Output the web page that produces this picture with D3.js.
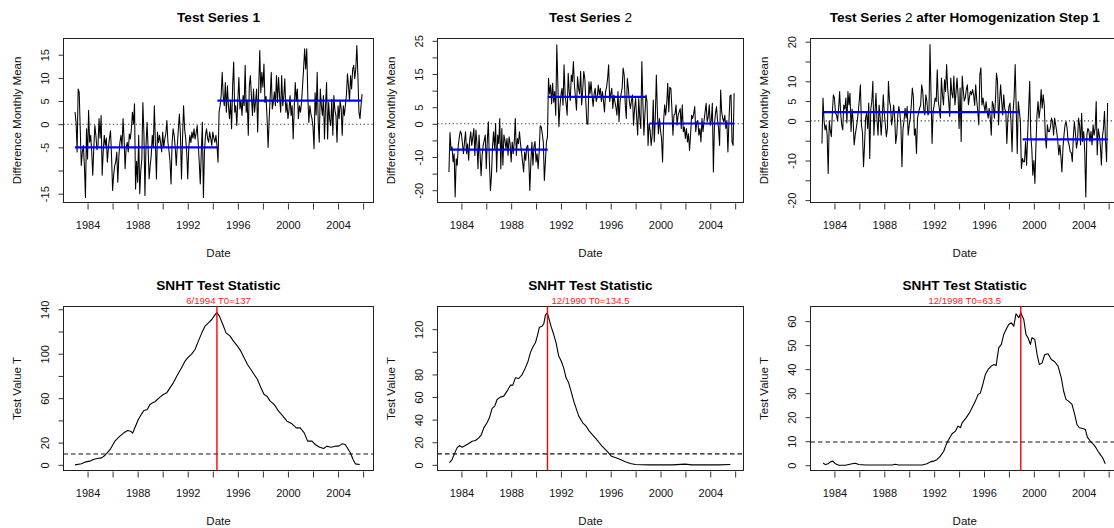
<!DOCTYPE html>
<html>
<head>
<meta charset="utf-8">
<script src="https://cdn.jsdelivr.net/npm/d3@7"></script>
<style>
  html, body { margin: 0; padding: 0; background: #fff; }
  svg { display: block; }
</style>
</head>
<body>
<div id="chart"></div>
<script>
// Six R-style panels: three monthly difference series (Jan 1983 - Dec 2005)
// with segment means, and the SNHT test statistic computed for each of them.

const startYear = 1983;   // first monthly value is January 1983

const series1 = [
  2.6, 0.4, -6, 7.6, 6.9, -1, -8.9, -6, -4.6, -9,
  -15.8, -1, -7.5, 3, -3.9, -2.4, -6, -11, -5, -0.3,
  -2.4, -5.5, -4.6, 1.2, -3, 1.9, -11, -6, -2.4, -4.6,
  -3, -8.2, -5, -3, -1.4, -7, -14.3, -11, -9, -8.2,
  -6, -12.5, -7, -3.9, -2.4, -5, 1.2, -3, -9.6, -5,
  -3.9, -6, -2.1, -3.2, -1, 2.6, 0, 4.4, -14, -8,
  -12.5, -2.4, -15, -10, -7.5, 4.7, -2, -15.4, -4.6, 0.4,
  -5, -11.8, -9, -6.8, -2.4, -5, 4, -4, -11.8, -1.7,
  -4, -2.4, -4, -6, -1.7, -5, -3.2, -2, 0.8, -3.9,
  -5.7, -8, -12.9, -4, -1, -2.4, -5, -8.9, -4.6, -1,
  2.2, -2.4, -11.8, -3, 4, -1, -3, -6, -11.8, -5,
  -2.4, -4, -1.7, -3, -1, -3.2, -2, -0.3, -4, -8.2,
  -12.9, -6, 0.4, -15.8, -6, -2.4, -1, -3, -3.9, -1.7,
  -3, -4.6, -1.7, -3, -3.9, -2.4, -4.6, -8.2, 2.6, 4,
  6.2, 11.2, 6, 4, 9, 2.6, 8.3, 4, 1.2, 5,
  -1, 8.3, 13.4, 2.6, 4, -0.3, 5.4, 10.1, 3.3, 5,
  1.9, 6.2, 4, 12.7, 2.6, 5, -2.4, 8.3, 10.5, 6,
  1.9, 7.6, 2.6, 5, 7.6, -1.7, 8, 15.9, 6.8, 11.2,
  8, 13, 4.7, 6, 1.2, -5, 1.2, 6, 11.2, 3.3,
  4.7, 7, 4, 10.5, 4.7, 10.1, 6, 2.6, 10.5, 4,
  6, 9.8, 2.6, 4.7, 1.2, 3, 6.2, 1.9, 4, -3.2,
  3.3, 9, 5, 7.6, 1.2, 4, 2.6, 4.7, 8.3, 12,
  16.3, 11.9, 16.3, 6.2, 0.4, 4, 2.2, 1.2, -0.6, -5.3,
  6.8, 2, 11.2, 0.4, -3.9, 7.6, 4, 1.9, 6.2, -3.2,
  4, 9, -3.2, 4.7, 1, -0.3, 5.4, -2.4, 6.2, 3,
  1.9, -3.9, 4, 1.2, 5, 3.3, -2.4, 4, 1.9, 4,
  6.2, 10.9, 8.3, 5, 10.5, 7.6, 11.9, 12.7, 9.8, 12,
  17, 10.5, 2.6, 1.2, 4, 6.5
];

const series2 = [
  -14.5, -2.6, -7.5, -7, -11.5, -9, -22, -10.5, -12.5, -6.5,
  -4, -2.2, -3, -6, -9, -5.5, -2.4, -9, -6, -11,
  -5, -2.4, -6.5, -4, -1.4, -9.5, -1.9, -6, -13.5, -3.4,
  -9, -15.6, -9.5, -6.5, -5, -3.4, -13.5, -5, 0.6, -11.5,
  -20.1, -15.6, -7, -2.4, -7.5, 0.1, -14.5, -3.4, -6, 1.6,
  -13.5, -1.4, -12.5, -3.4, -5, -7.5, -4.4, -9.5, -3.9, -6,
  -11.5, -5.5, -9, -5.5, 1.6, -9.5, -4.4, -6, -2.4, -6,
  -8.5, -11.5, -14.5, -8.5, -11, -7, -6.5, -11, -20.1, -11.5,
  -5.5, -12.5, -7, -5.3, -11.5, -9, -13.5, -8.5, -0.6, -0.9,
  -3, -5.5, -17.1, -11.5, -5.5, -4, 13.7, 9, 11.7, 6,
  12.2, 6.5, 9.7, 2.6, 23.8, 12.2, -0.9, 5, 8.7, 10.7,
  5.6, 17.8, 8.7, 6, 2.6, 15.2, 9.7, 7, 14.7, 12.7,
  18.8, 11.7, 8, 4.1, 14.2, 10.7, 9, 15.8, 5.7, 10.2,
  15.8, 13.7, 6.7, 0.1, -0.2, 12.7, 9, 12.7, 8.7, 5.2,
  9, 10.7, 6.7, 8, 11.7, 8.7, 10.7, 6.7, 9.7, 7,
  3.6, 9.7, 11, 13.7, 17.8, 6.7, 9, 10.7, 4.6, 8.7,
  6.7, 5, 2.6, 9.7, 0.6, 6.7, 9, 10.7, 16.8, 14.7,
  6, 1.6, 13.7, 10.7, 6.7, 4.6, 7, 8.7, -0.4, 4.6,
  7.6, 2, -3.4, 7.6, 2, -1.4, 18.8, 6.7, -3.4, 3,
  8.7, 6.7, -6.5, 0.1, -2, -6.5, -3.4, 7.2, -5.5, 2,
  14.7, 3.6, -3, 1.6, -2, -4.4, -11.5, 0.6, 5.7, 2.6,
  6, 12.2, 3.6, 11, 10.7, 4.6, -3.4, 2.6, 3, 5.7,
  -0.4, 2.6, 3.6, 4.6, -1.4, 5.7, -2.4, -1, -4.4, -1.4,
  -5.5, -3, -8, -3.4, 2.6, 1.6, 3, 5.2, -2.4, 0.6,
  1, -3.4, -1.4, -5.5, 1.6, -2.4, 1, 3.6, 6.2, 0.6,
  2, 5.7, -0.4, 1, 6.2, -14.5, -0.4, 3.1, 5.2, 1,
  -1.4, -6.5, 10.2, 3.6, 1.6, 0.6, 2.6, -1.4, 1, -8.5,
  0.6, 8.4, 8.7, -5.5, -6.5, 9.2
];

const series3 = [
  -5.7, 5.8, 0, -2.3, -1, -3.6, -13.3, 0, -2.3, -4,
  2, 6.6, 5.8, 2, 1.5, 0, 3, 7.4, 2, -1,
  -2.3, 4, 3, 5.8, -0.5, 7.4, 4, 7, -2.7, 3,
  0, -6.1, -3.6, -1.9, 0, 2.4, 5.4, 9.1, -1, -3,
  -11.6, -6.1, 0.7, 2, -1.9, 4.5, -9.5, 3, 4.9, 10,
  -3.6, 2, 7, 0, -3.6, 4, 1, -3.6, 0.7, 6.6,
  2, -1, -4, -1.9, 10, 5, 3.6, -1, 0.7, 4,
  1, -5.7, -3.6, 1.5, 3.6, 2, -1, -11.6, -2, 0,
  3.2, 0.7, 3.6, -3.6, -1, 0.7, 4, 8.3, 6.1, -3.6,
  -2, -8.2, 0.7, 2, 3.2, 4, 9.1, 7.4, 3, 1.5,
  6.6, 4.9, 1.5, 2, 19.3, 6.6, -5.7, 2.4, 4, 5.8,
  4.9, 12.9, 4.9, 3, 0.7, 10.8, 6.6, 4, 10.4, 7.4,
  14.2, 8.3, 5, 1.1, 10.8, 7, 5.8, 11.3, 4, 7,
  10.8, 6.6, -1.9, 8.3, -5.2, 11.3, 7.9, 5, 5.8, 8,
  9.1, 4.1, 6, 7.5, 6.6, 7.9, 6.6, 3.9, 9.1, 5.2,
  2.4, -1, 11.7, 13.4, 4, 5.8, 3.9, 2.4, 4.9, 2.4,
  0.7, 3.2, 1, -3.6, 4.9, 4, 0.7, 5, 12.1, 10,
  -1, 5, 9.1, 4.9, 1.5, 6.6, 3, 2.4, -5.7, 0.7,
  3.6, 4.5, -0.2, -7.8, 2.4, 6, 14.2, 3.2, -8.2, 4.9,
  2.4, 0, -12, -9.5, -10.3, -10.3, -5.2, -11.2, -3.6, 3,
  10, -3.6, -6.9, -13.7, -10, -15.8, -6.1, 1.5, 4.9, 0.7,
  3, 7.9, 3.2, 6.6, 4, -3.6, -6.9, -1, -2.7, -2.7,
  -1.5, 0.7, -0.2, -3.6, 0.7, -1, -2.7, -5, -8.6, -6.1,
  -9, -12.9, -6.9, -3.6, -1, -0.2, -1.9, -5.2, -6.1, -7.8,
  -8, -10.3, -4, -0.2, -3, -6.9, -5.2, 0.7, -1, -6.1,
  1.9, -5.2, -2.7, -8, -19.2, -3.6, -1.9, -2.5, -5.2, -2.7,
  -6.1, -1, -3.6, -1.9, 4.9, -8.6, -2, -3.6, -6.1, -11.2,
  -4, -1.9, 2.4, -5.2, -10.3, 4.5
];

// segment means: [from year, to year, level]
const means1 = [[1983.0, 1994.37, -5.0], [1994.37, 2005.92, 5.1]];
const means2 = [[1983.04, 1990.94, -7.8], [1990.94, 1998.84, 8.1], [1999.1, 2005.92, 0.1]];
const means3 = [[1983.07, 1998.87, 2.2], [1999.1, 2005.95, -4.65]];

// SNHT statistic: [year, T]
const snht1 = [
  [1983.0,0],[1983.52,1],[1983.86,2.7],[1984.18,3.3],[1984.45,4.8],[1984.77,5.7],[1985.12,6.3],
  [1985.38,8.4],[1985.57,10.8],[1985.84,14.4],[1986.18,21.3],[1986.58,25.8],[1986.9,28.8],
  [1987.2,30.9],[1987.44,30.3],[1987.6,28.5],[1987.78,33.3],[1988.05,40.8],[1988.32,45.9],
  [1988.5,48.9],[1988.77,49.8],[1988.98,54.3],[1989.2,55.8],[1989.38,56.7],[1989.57,58.8],
  [1989.78,60.9],[1990.05,63.3],[1990.32,64.8],[1990.58,69.3],[1990.85,73.8],[1991.12,79.8],
  [1991.38,84.9],[1991.57,88.8],[1991.78,93.3],[1992.05,96.9],[1992.32,99.9],[1992.58,103.8],
  [1992.85,111.3],[1993.12,118.8],[1993.38,124.8],[1993.65,127.8],[1993.92,130.8],[1994.1,133.8],
  [1994.32,137],[1994.53,133.8],[1994.8,126.3],[1995.06,118.8],[1995.38,115.8],[1995.65,111.3],
  [1995.97,106.8],[1996.24,102.3],[1996.5,96.3],[1996.77,90.3],[1997.04,85.8],[1997.3,81.3],
  [1997.57,76.8],[1997.84,69.3],[1998.1,63.3],[1998.32,61.8],[1998.58,57.3],[1998.9,54.3],
  [1999.25,48.3],[1999.6,43.8],[1999.92,39.3],[2000.32,36.9],[2000.66,33.3],[2000.98,33.3],
  [2001.3,28.8],[2001.57,21.3],[2001.92,21.3],[2002.18,18.3],[2002.53,15.9],[2002.85,14.7],
  [2003.12,16.8],[2003.44,15.9],[2003.78,16.8],[2004.05,16.8],[2004.32,18.9],[2004.58,18.3],
  [2004.77,14.7],[2004.98,10.8],[2005.2,4.8],[2005.38,0.9],[2005.73,0.3]
];
const snht2 = [
  [1983.04,2],[1983.25,4.7],[1983.47,10.6],[1983.65,15],[1983.84,17.1],[1984.06,15.6],
  [1984.32,17.1],[1984.59,18.9],[1984.86,20.9],[1985.13,21.5],[1985.4,23.9],[1985.61,26.8],
  [1985.8,32.7],[1986.06,37.2],[1986.25,41.6],[1986.47,49.9],[1986.68,51.9],[1986.87,57.8],
  [1987.13,59.9],[1987.4,60.8],[1987.67,65.2],[1987.94,70.5],[1988.13,70.5],[1988.34,77],
  [1988.61,76.4],[1988.88,79.9],[1989.14,85.8],[1989.36,91.7],[1989.54,99.1],[1989.73,104.1],
  [1989.95,108],[1990.13,115.3],[1990.27,121.8],[1990.48,122.7],[1990.62,124.8],[1990.75,132.4],
  [1990.9,134.5],[1991.02,130.1],[1991.2,122.7],[1991.42,115.3],[1991.61,108],[1991.82,96.2],
  [1992.03,91.7],[1992.22,85.8],[1992.41,77],[1992.62,72.6],[1992.81,65.2],[1993.03,56.3],
  [1993.21,50.4],[1993.43,43.1],[1993.75,37.2],[1994.02,34.2],[1994.28,29.8],[1994.63,25.4],
  [1994.98,20.9],[1995.3,16.5],[1995.7,12.1],[1996.05,7.7],[1996.43,6.2],[1996.77,4.7],
  [1997.17,2.7],[1997.58,1.2],[1997.98,0.3],[1999.05,0],[2000.93,0],[2001.99,0.6],
  [2002.53,0],[2004.67,0],[2005.61,0.3]
];
const snht3 = [
  [1983.09,0.8],[1983.28,0.3],[1983.49,0.6],[1983.68,1.4],[1983.87,1.7],[1984.08,0.6],
  [1984.35,0],[1984.88,0],[1985.42,0.6],[1985.69,0.8],[1985.95,0.3],[1986.49,0.1],
  [1988.63,0.1],[1988.89,0.4],[1989.16,0.1],[1991.03,0.1],[1991.43,0.6],[1991.7,1.4],
  [1991.97,1.7],[1992.24,2.4],[1992.5,3.8],[1992.77,5.8],[1992.96,8.6],[1993.17,10.7],
  [1993.44,13.1],[1993.71,14.2],[1993.92,16.3],[1994.11,15.6],[1994.24,17.6],[1994.56,19.7],
  [1994.83,21.8],[1995.1,24.6],[1995.31,26.7],[1995.52,29.4],[1995.71,30.1],[1995.9,33.6],
  [1996.11,37.8],[1996.33,39.9],[1996.59,41.3],[1996.78,41.9],[1996.97,41.5],[1997.18,48.9],
  [1997.39,50.3],[1997.58,54.4],[1997.77,56.5],[1997.98,58.6],[1998.2,59.3],[1998.39,57.9],
  [1998.57,63.1],[1998.79,61.4],[1998.95,63.5],[1999.19,60.7],[1999.37,54.4],[1999.53,53.1],
  [1999.72,50.3],[1999.85,53.1],[2000.07,52.4],[2000.26,46.1],[2000.44,41.9],[2000.66,42.6],
  [2000.87,46.1],[2001.14,46.4],[2001.4,44],[2001.67,43.1],[2001.94,41.3],[2002.2,36.4],
  [2002.39,30.8],[2002.58,27.4],[2002.85,26.4],[2003.06,25.3],[2003.28,21.1],[2003.46,16.9],
  [2003.65,15.6],[2003.92,15.3],[2004.13,14.9],[2004.29,11.7],[2004.53,10],[2004.8,8.6],
  [2004.99,7.2],[2005.15,5.8],[2005.33,4.4],[2005.52,3.1],[2005.73,0.6]
];

const breakYears = [1994.33, 1990.92, 1998.95];
const breakLabels = ['6/1994 T0=137', '12/1990 T0=134.5', '12/1998 T0=63.5'];
const threshold = 9.7;

const xTicks = d3.range(1984, 2007, 2);
const xLabels = [1984, 1988, 1992, 1996, 2000, 2004];

const yTicksTop = [d3.range(-15, 16, 5), d3.range(-20, 26, 5), d3.range(-20, 21, 5)];
const yLabelsTop = [[-15, -5, 0, 5, 10, 15], [-20, -10, 0, 5, 15, 25], [-20, -10, 0, 5, 10, 20]];
const yTicksBottom = [d3.range(0, 141, 20), d3.range(0, 121, 20), d3.range(0, 61, 10)];
const yLabelsBottom = [[0, 20, 60, 100, 140], [0, 20, 40, 60, 80, 120], [0, 10, 20, 30, 40, 50, 60]];

// layout
const FONT = '"Liberation Sans", Arial, Helvetica, sans-serif';
const W = 1114, H = 528;
const columns = [
  { left: 63.5, right: 373.5, xMax: 2006.83 },
  { left: 437.5, right: 743.5, xMax: 2006.67 },
  { left: 810.5, right: 1119, xMax: 2006.83 }
];
const rows = [{ top: 38.5, bottom: 202.5 }, { top: 306.5, bottom: 470.5 }];
const yDomTop = [[-16.9, 18.5], [-23.7, 25.7], [-20.6, 20.8]];
const yDomBottom = [[-5.1, 142.5], [-5, 140.1], [-2.2, 66.1]];
const xMin = 1982.08;

const svg = d3.select('#chart').append('svg').attr('width', W).attr('height', H);

function panelFrame(col, row, yDomain, yTicks, yLabels, title, yTitle) {
  const c = columns[col], r = rows[row];
  const g = svg.append('g');
  const x = d3.scaleLinear().domain([xMin, c.xMax]).range([c.left, c.right]);
  const y = d3.scaleLinear().domain(yDomain).range([r.bottom, r.top]);

  const xa = g.append('g').attr('transform', `translate(0,${r.bottom})`)
    .call(d3.axisBottom(x).tickValues(xTicks).tickSize(6)
      .tickFormat(d => xLabels.includes(d) ? String(d) : ''))
    .attr('font-family', FONT).attr('font-size', 11);
  xa.select('.domain').remove();
  xa.selectAll('.tick line').attr('y1', 1).attr('y2', 7).attr('stroke', '#333');
  xa.selectAll('.tick text').attr('y', 26.5).attr('dy', 0).attr('fill', '#111');

  const ya = g.append('g').attr('transform', `translate(${c.left},0)`)
    .call(d3.axisLeft(y).tickValues(yTicks).tickSize(5)
      .tickFormat(d => yLabels.includes(d) ? String(d) : ''))
    .attr('font-family', FONT).attr('font-size', 11);
  ya.select('.domain').remove();
  ya.selectAll('.tick line').attr('stroke', '#333');
  ya.selectAll('.tick text').attr('x', 0).attr('dy', 0)
    .attr('text-anchor', 'middle').attr('fill', '#111')
    .attr('transform', 'translate(-14.5,0) rotate(-90)');

  g.append('rect').attr('x', c.left).attr('y', r.top)
    .attr('width', c.right - c.left).attr('height', r.bottom - r.top)
    .attr('fill', 'none').attr('stroke', '#222').attr('stroke-width', 1);

  const cx = (c.left + c.right) / 2;
  const t = g.append('text').attr('x', cx).attr('y', r.top - 17)
    .attr('text-anchor', 'middle').attr('font-family', FONT)
    .attr('font-size', 13.6).attr('font-weight', 'bold').attr('fill', '#000');
  title.forEach(part => t.append('tspan').attr('font-weight', part[1]).text(part[0]));

  g.append('text').attr('x', cx).attr('y', r.bottom + 54)
    .attr('text-anchor', 'middle').attr('font-family', FONT)
    .attr('font-size', 11.5).attr('fill', '#111').text('Date');

  g.append('text')
    .attr('transform', `translate(${c.left - 43},${(r.top + r.bottom) / 2}) rotate(-90)`)
    .attr('text-anchor', 'middle').attr('font-family', FONT)
    .attr('font-size', 11.5).attr('fill', '#111').text(yTitle);

  return { g, x, y, c, r };
}

// top row: difference series
const tops = [
  { data: series1, means: means1, title: [['Test Series ', 'bold'], ['1', 'bold']] },
  { data: series2, means: means2, title: [['Test Series ', 'bold'], ['2', 'normal']] },
  { data: series3, means: means3, title: [['Test Series ', 'bold'], ['2', 'normal'], [' after Homogenization Step 1', 'bold']] }
];

tops.forEach((s, k) => {
  const { g, x, y, c } = panelFrame(k, 0, yDomTop[k], yTicksTop[k], yLabelsTop[k], s.title, 'Difference Monthly Mean');
  g.append('line').attr('x1', c.left).attr('x2', c.right).attr('y1', y(0)).attr('y2', y(0))
    .attr('stroke', '#333').attr('stroke-width', 1.1).attr('stroke-dasharray', '1.2,2.6');
  const line = d3.line().x((d, i) => x(startYear + i / 12)).y(d => y(d));
  g.append('path').datum(s.data).attr('d', line)
    .attr('fill', 'none').attr('stroke', '#000').attr('stroke-width', 1.05)
    .attr('stroke-linejoin', 'round');
  g.selectAll('line.mean').data(s.means).enter().append('line').attr('class', 'mean')
    .attr('x1', d => x(d[0])).attr('x2', d => x(d[1]))
    .attr('y1', d => y(d[2])).attr('y2', d => y(d[2]))
    .attr('stroke', '#0000ff').attr('stroke-width', 2.2);
});

// bottom row: SNHT statistics
[snht1, snht2, snht3].forEach((s, k) => {
  const { g, x, y, c, r } = panelFrame(k, 1, yDomBottom[k], yTicksBottom[k], yLabelsBottom[k],
    [['SNHT Test Statistic', 'bold']], 'Test Value T');
  g.append('line').attr('x1', c.left).attr('x2', c.right).attr('y1', y(threshold)).attr('y2', y(threshold))
    .attr('stroke', '#111').attr('stroke-width', 1.1).attr('stroke-dasharray', '4.5,3');
  g.append('path').datum(s).attr('d', d3.line().x(d => x(d[0])).y(d => y(d[1])))
    .attr('fill', 'none').attr('stroke', '#000').attr('stroke-width', 1.1)
    .attr('stroke-linejoin', 'round');
  g.append('line').attr('x1', x(breakYears[k])).attr('x2', x(breakYears[k]))
    .attr('y1', r.top).attr('y2', r.bottom)
    .attr('stroke', '#ff0000').attr('stroke-width', 1.4);
  g.append('text').attr('x', (c.left + c.right) / 2).attr('y', r.top - 2.5)
    .attr('text-anchor', 'middle').attr('font-family', FONT)
    .attr('font-size', 9.6).attr('fill', '#ff2020').text(breakLabels[k]);
});
</script>
</body>
</html>
